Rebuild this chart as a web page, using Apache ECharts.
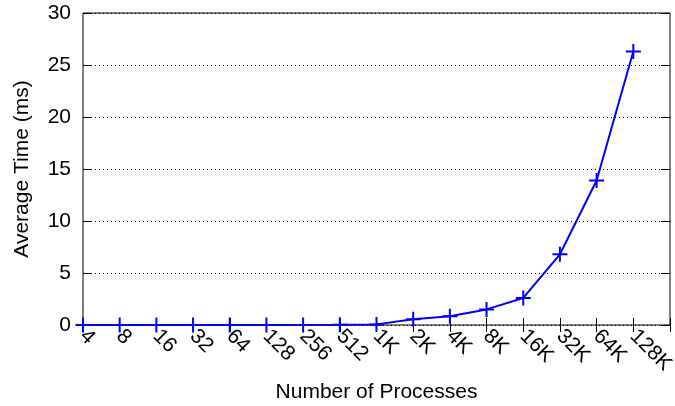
<!DOCTYPE html>
<html>
<head>
<meta charset="utf-8">
<script src="https://cdn.jsdelivr.net/npm/echarts@6/dist/echarts.min.js"></script>
<style>
  html, body { margin: 0; padding: 0; background: #fff; }
  #chart { width: 675px; height: 406px; }
</style>
</head>
<body>
<div id="chart"></div>
<script>
var processes = ["4", "8", "16", "32", "64", "128", "256", "512", "1K", "2K", "4K", "8K", "16K", "32K", "64K", "128K"];
var avgTime = [0.001, 0.001, 0.002, 0.003, 0.004, 0.006, 0.01, 0.02, 0.06, 0.55, 0.85, 1.5, 2.6, 6.8, 13.9, 26.3];
var yTicks = [0, 5, 10, 15, 20, 25, 30];

var fontFam = "Liberation Sans, Arial, sans-serif";
// one empty slot at the end so the frame runs past 128K like the original
var xCats = processes.concat([""]);

var myChart = echarts.init(document.getElementById("chart"));
var option = {
    backgroundColor: "#fff",
    animation: false,
    grid: {
        left: 83,
        right: 5,
        top: 13,
        bottom: 81,
        outerBoundsMode: "none",
        containLabel: false,
        show: true,
        borderColor: "#000",
        borderWidth: 1,
        backgroundColor: "transparent"
    },
    xAxis: [
        {
            type: "category",
            data: xCats,
            boundaryGap: false,
            name: "Number of Processes",
            nameLocation: "middle",
            nameGap: 57,
            nameTextStyle: { fontFamily: fontFam, fontSize: 21, color: "#000" },
            axisLine: { show: false },
            axisTick: { inside: true, length: 7, lineStyle: { color: "#000" } },
            axisLabel: {
                rotate: -45,
                margin: 8,
                fontFamily: fontFam,
                fontSize: 21,
                color: "#000",
                interval: 0
            },
            splitLine: { show: false }
        },
        {
            type: "category",
            data: xCats,
            boundaryGap: false,
            position: "top",
            axisLine: { show: false },
            axisTick: { inside: true, length: 7, lineStyle: { color: "#000" } },
            axisLabel: { show: false },
            splitLine: { show: false }
        }
    ],
    yAxis: [
        {
            type: "value",
            min: yTicks[0],
            max: yTicks[yTicks.length - 1],
            interval: 5,
            name: "Average Time (ms)",
            nameLocation: "middle",
            nameGap: 50,
            nameTextStyle: { fontFamily: fontFam, fontSize: 21, color: "#000" },
            axisLine: { show: false },
            axisTick: { show: true, inside: true, length: 9, lineStyle: { color: "#000" } },
            axisLabel: { margin: 12, fontFamily: fontFam, fontSize: 21, color: "#000" },
            splitLine: { show: true, lineStyle: { color: "#000", type: [1, 3], width: 1 } }
        },
        {
            type: "value",
            min: yTicks[0],
            max: yTicks[yTicks.length - 1],
            interval: 5,
            position: "right",
            axisLine: { show: false },
            axisTick: { show: true, inside: true, length: 9, lineStyle: { color: "#000" } },
            axisLabel: { show: false },
            splitLine: { show: false }
        }
    ],
    series: [
        {
            type: "line",
            data: avgTime,
            xAxisIndex: 0,
            yAxisIndex: 0,
            lineStyle: { color: "#0000ff", width: 2 },
            symbol: "path://M0,-1L0,1M-1,0L1,0",
            symbolSize: 15,
            showAllSymbol: true,
            itemStyle: { color: "none", borderColor: "#0000ff", borderWidth: 2 },
            z: 5
        }
    ]
};
myChart.setOption(option);
</script>
</body>
</html>
